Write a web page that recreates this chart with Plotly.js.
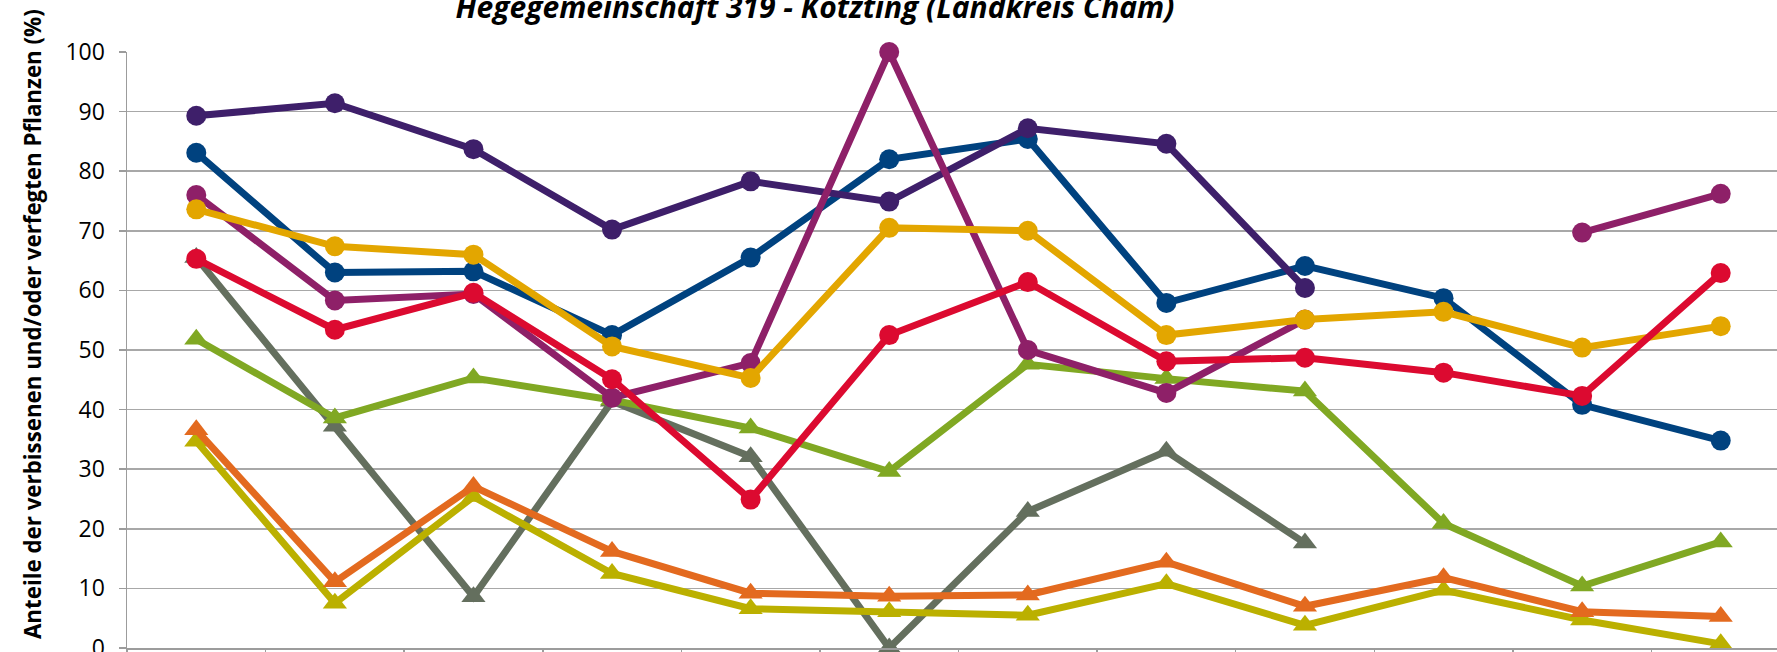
<!DOCTYPE html>
<html>
<head>
<meta charset="utf-8">
<script src="https://cdn.plot.ly/plotly-3.0.1.min.js"></script>
<style>
  html, body { margin: 0; padding: 0; overflow: hidden; background: #fff; }
  #chart { width: 1900px; height: 760px; }
</style>
</head>
<body>
<div id="chart"></div>
<script>
// Categories (survey years; tick labels lie below the visible crop)
const categories = ['1991','1994','1997','2000','2003','2006','2009','2012','2015','2018','2021','2024'];

// Series values (% of browsed and/or frayed plants)
const seriesDarkPurple = [89.3, 91.4, 83.7, 70.2, 78.3, 74.9, 87.2, 84.6, 60.4, null, null, null];
const seriesBlue       = [83.1, 63.0, 63.2, 52.5, 65.5, 82.0, 85.4, 57.9, 64.1, 58.7, 40.8, 34.8];
const seriesMagenta    = [76.0, 58.3, 59.4, 42.0, 47.8, 100, 50.0, 42.8, 55.1, null, 69.7, 76.2];
const seriesGold       = [73.6, 67.4, 66.0, 50.6, 45.3, 70.5, 70.0, 52.5, 55.1, 56.4, 50.4, 54.0];
const seriesRed        = [65.3, 53.4, 59.6, 45.1, 24.9, 52.5, 61.4, 48.1, 48.7, 46.2, 42.3, 62.9];
const seriesGreen      = [51.8, 38.6, 45.3, 41.6, 36.9, 29.6, 47.6, 45.2, 43.1, 20.9, 10.4, 17.8];
const seriesGray       = [65.5, 37.2, 8.6, 41.4, 32.1, 0, 22.9, 33.0, 17.6, null, null, null];
const seriesOrange     = [36.6, 11.1, 27.1, 16.2, 9.2, 8.7, 8.9, 14.4, 7.0, 11.8, 6.1, 5.3];
const seriesOlive      = [34.7, 7.5, 25.4, 12.5, 6.6, 6.1, 5.5, 10.8, 3.8, 9.7, 4.7, 0.7];

const titleText = 'Hegegemeinschaft 319 - Kötzting (Landkreis Cham)';
const yTitleText = 'Anteile der verbissenen und/oder verfegten Pflanzen (%)';

function trace(name, values, color, symbol) {
  return {
    type: 'scatter', mode: 'lines+markers', name: name,
    x: categories, y: values, connectgaps: false,
    line: { color: color, width: 7 },
    marker: { color: color, symbol: symbol, size: symbol === 'circle' ? 20 : 21 },
    cliponaxis: false
  };
}

const data = [
  trace('Reihe 7', seriesGray, '#646F5E', 'triangle-up'),
  trace('Reihe 6', seriesGreen, '#80A823', 'triangle-up'),
  trace('Reihe 9', seriesOlive, '#BBB000', 'triangle-up'),
  trace('Reihe 8', seriesOrange, '#E36A1F', 'triangle-up'),
  trace('Reihe 2', seriesBlue, '#00427F', 'circle'),
  trace('Reihe 1', seriesDarkPurple, '#3E1F6A', 'circle'),
  trace('Reihe 3', seriesMagenta, '#8E2068', 'circle'),
  trace('Reihe 4', seriesGold, '#E3A600', 'circle'),
  trace('Reihe 5', seriesRed, '#DC0A30', 'circle')
];

const layout = {
  width: 1900, height: 760,
  margin: { l: 127, r: 110, t: 52, b: 112 },
  paper_bgcolor: '#fff', plot_bgcolor: '#fff',
  showlegend: false,
  font: { family: 'Open Sans, sans-serif', color: '#000' },
  title: {
    text: titleText,
    font: { family: 'Open Sans, sans-serif', size: 30, weight: 'bold', style: 'italic', color: '#000' },
    xref: 'paper', x: 0.4137, xanchor: 'center',
    yref: 'container', y: 1 - 7/760, yanchor: 'middle'
  },
  xaxis: {
    type: 'category', range: [-0.5, 11.5],
    showgrid: false, zeroline: false,
    showline: true, linecolor: '#9C9C9C', linewidth: 1.5,
    ticks: 'outside', tickson: 'boundaries', ticklen: 8, tickcolor: '#9C9C9C', tickwidth: 1.5,
    showticklabels: false
  },
  yaxis: {
    range: [0, 100], dtick: 10, tick0: 0,
    showgrid: true, gridcolor: '#A8A8A8', gridwidth: 1.5,
    zeroline: false,
    showline: true, linecolor: '#9C9C9C', linewidth: 1.5,
    ticks: 'outside', ticklen: 7, tickcolor: '#9C9C9C', tickwidth: 1.5,
    tickfont: { family: 'Open Sans, sans-serif', size: 23, color: '#000' },
    ticklabelstandoff: 9
  },
  annotations: [{
    text: yTitleText,
    textangle: -90, showarrow: false,
    xref: 'paper', x: 0, xshift: -95, xanchor: 'center',
    yref: 'paper', y: 0.5436, yanchor: 'middle',
    font: { family: 'Open Sans, sans-serif', size: 22.3, weight: 'bold', color: '#000' }
  }]
};

Plotly.newPlot('chart', data, layout, { displayModeBar: false, staticPlot: true });
</script>
</body>
</html>
